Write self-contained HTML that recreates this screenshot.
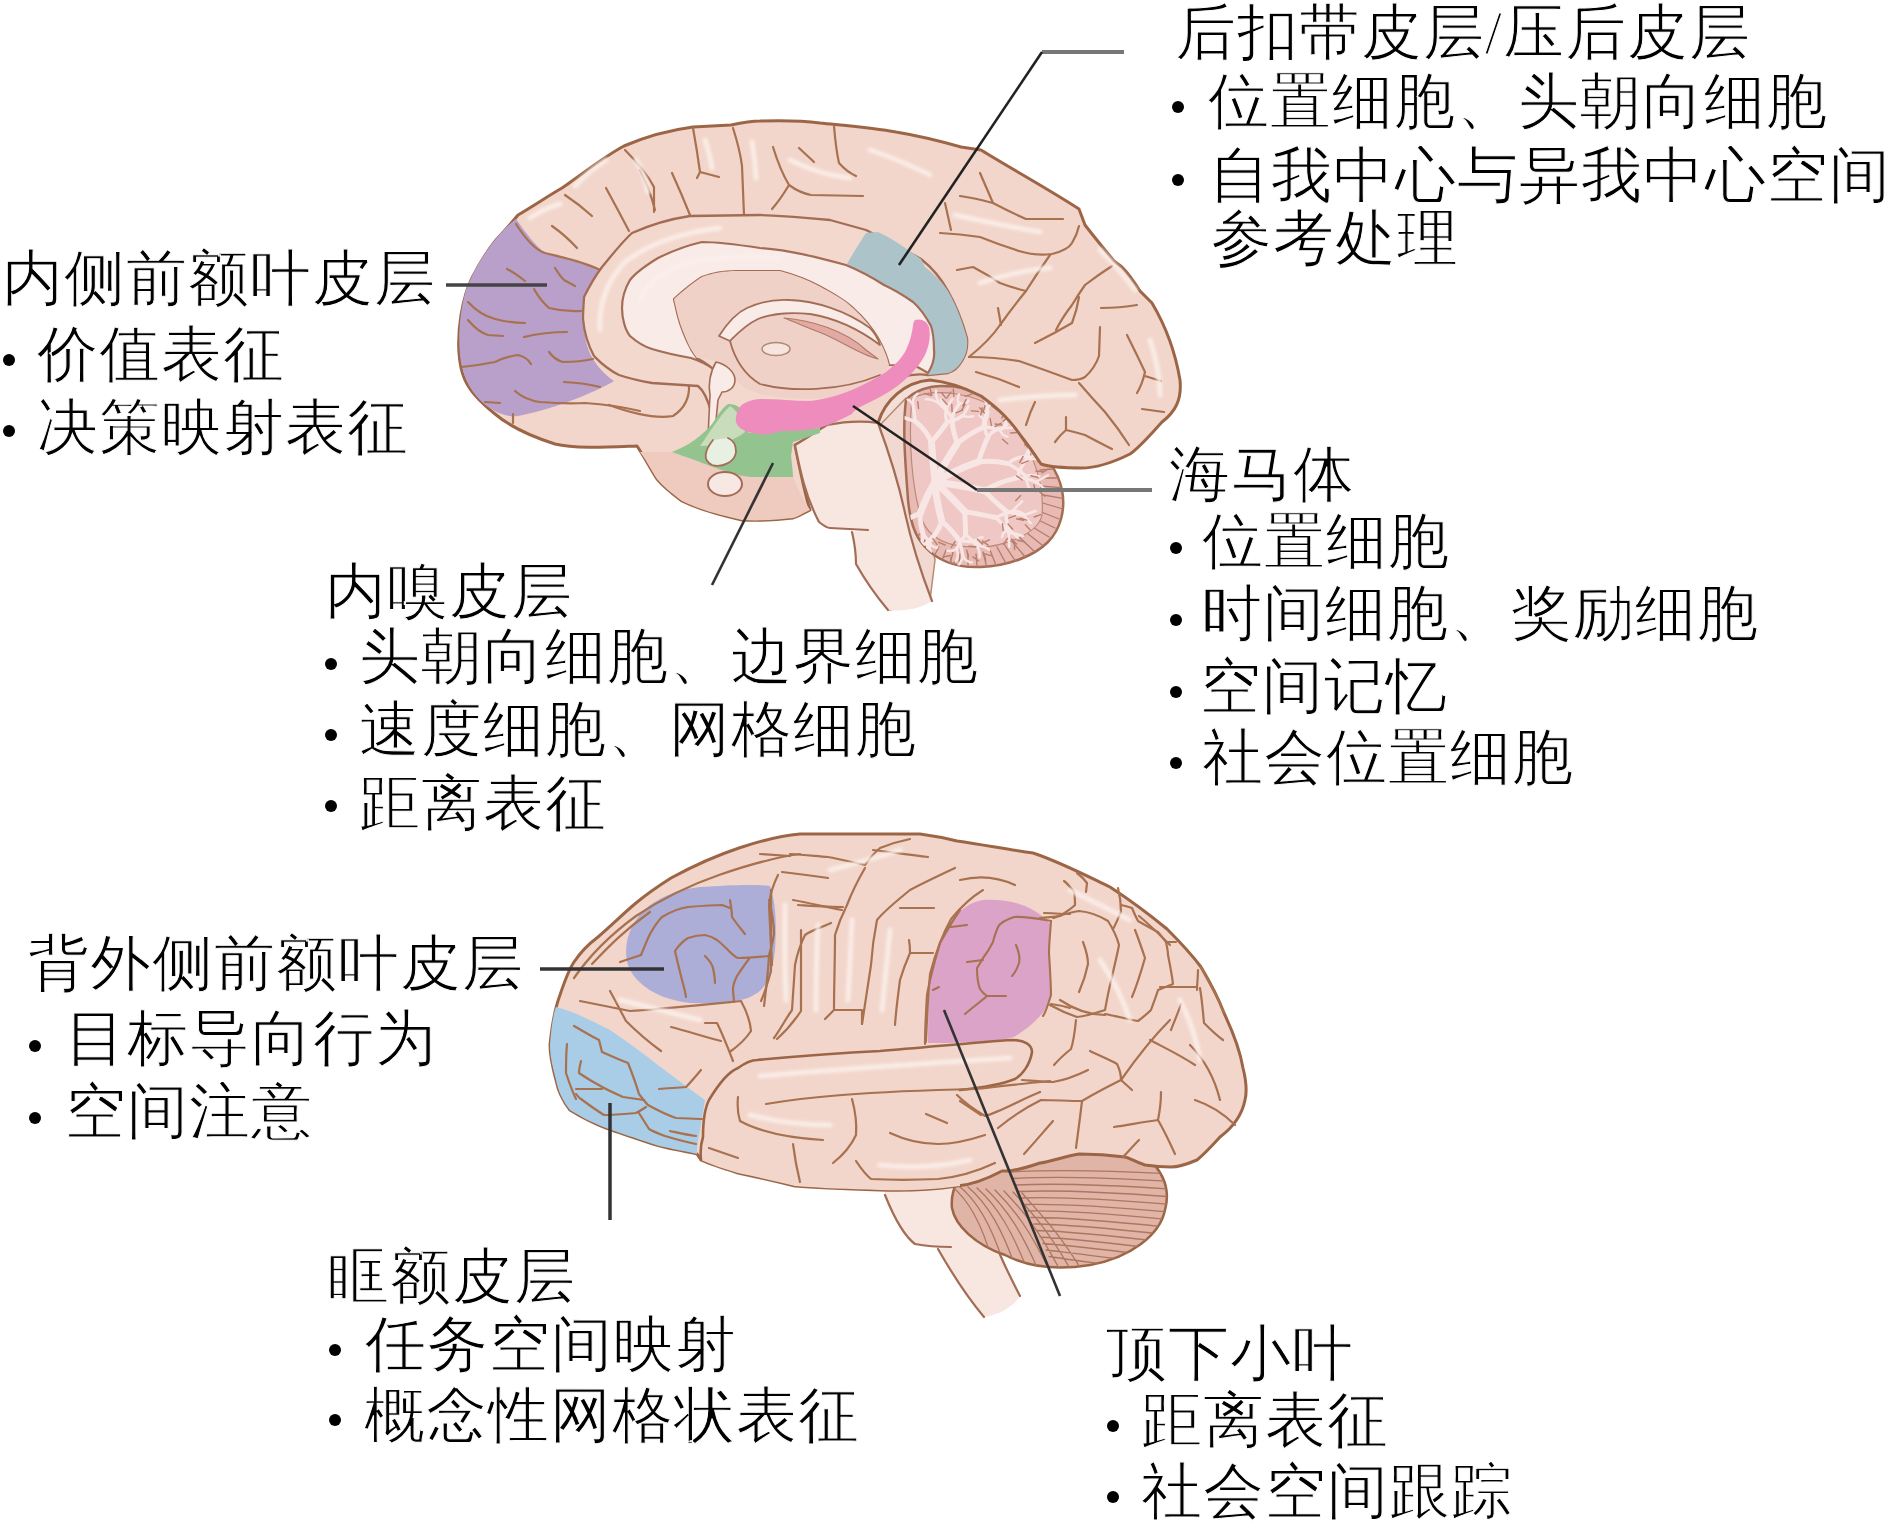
<!DOCTYPE html>
<html><head><meta charset="utf-8"><style>
html,body{margin:0;padding:0;background:#fff;width:1890px;height:1529px;overflow:hidden}
body{position:relative;font-family:"Liberation Serif",serif;color:#111}
.t{position:absolute;white-space:nowrap;line-height:1;font-size:60.5px;letter-spacing:1.0px;color:#000;-webkit-text-stroke:1px #fff}
.b{position:absolute;width:12px;height:12px;border-radius:50%;background:#000}
svg{position:absolute;left:0;top:0}
</style></head><body>

<svg width="1890" height="1529" viewBox="0 0 1890 1529">
<defs><filter id="blr" x="-20%" y="-20%" width="140%" height="140%"><feGaussianBlur stdDeviation="1.8"/></filter></defs>
<g id="top" stroke-linejoin="round" stroke-linecap="round">

<!-- cerebellum -->
<path d="M850 445 L865 395 L930 362 L1000 395 L906 420 Z" fill="#f3dfd8"/>
<path d="M880 425 L906 398 L935 560 L930 600 L890 610 Z" fill="#f1d8d0" stroke="#b98a72" stroke-width="1.5"/>
<path d="M906 400 C915 390 930 386 941 386 C960 386 975 390 985 396 C1000 410 1015 425 1030 440 C1045 455 1058 470 1062 490 C1066 510 1060 530 1048 542 C1035 555 1010 566 981 567 C960 568 940 563 925 547 C914 535 910 520 908 500 C906 470 902 430 906 400 Z" fill="#e8bab3" stroke="#a36d55" stroke-width="2.5"/>
<clipPath id="cbclip"><path d="M906 400 C915 390 930 386 941 386 C960 386 975 390 985 396 C1000 410 1015 425 1030 440 C1045 455 1058 470 1062 490 C1066 510 1060 530 1048 542 C1035 555 1010 566 981 567 C960 568 940 563 925 547 C914 535 910 520 908 500 C906 470 902 430 906 400 Z"/></clipPath>
<g clip-path="url(#cbclip)">
<path d="M1030 440 L1055 428 M1034 447 L1059 437 M1036 455 L1063 447 M1038 462 L1066 457 M1040 470 L1067 468 M1040 478 L1068 478 M1040 486 L1067 488 M1038 494 L1066 499 M1036 501 L1063 509 M1034 509 L1059 519 M1030 516 L1055 528 M1026 523 L1049 537 M1022 529 L1042 545 M1016 534 L1035 552 M1010 539 L1027 559 M1004 544 L1018 565 M997 547 L1009 569 M990 550 L999 573 M983 552 L989 576 M976 554 L978 577 M968 554 L968 578 M960 554 L958 577 M953 552 L947 576 M946 550 L937 573 M939 547 L927 569 M932 544 L918 565 M926 539 L909 559 M920 534 L901 552 M914 529 L894 545 M910 523 L887 537 M906 516 L881 528 M902 509 L877 519 M900 501 L873 509 M898 494 L870 499 M896 486 L869 488 M896 478 L868 478 M896 470 L869 468 M898 462 L870 457 M900 455 L873 447 M902 447 L877 437" fill="none" stroke="#b37c68" stroke-width="1.3"/>
<path d="M912 398 C935 388 975 392 1000 412 C1030 440 1045 480 1042 515 C1038 535 1000 548 975 547 C950 547 930 540 922 520 C912 490 908 440 912 398 Z" fill="#efc8c5" stroke="#b98a7a" stroke-width="1.2"/>
<g fill="none" stroke="#f8e6e5" stroke-linecap="round"><path d="M935.0 482.0 Q933.0 462.4 931.5 442.2" stroke-width="7.0"/><path d="M931.5 442.2 Q939.6 432.6 947.5 422.0" stroke-width="4.9"/><path d="M947.5 422.0 Q956.0 420.5 963.0 415.5" stroke-width="3.4"/><path d="M963.0 415.5 Q965.6 417.7 973.2 416.2" stroke-width="2.5"/><path d="M963.0 415.5 Q965.4 412.4 968.3 406.4" stroke-width="2.5"/><path d="M947.5 422.0 Q944.3 417.1 946.7 407.6" stroke-width="3.4"/><path d="M946.7 407.6 Q948.5 403.9 952.4 399.1" stroke-width="2.5"/><path d="M946.7 407.6 Q943.7 404.7 940.6 399.9" stroke-width="2.5"/><path d="M931.5 442.2 Q925.9 429.3 915.2 421.4" stroke-width="4.9"/><path d="M915.2 421.4 Q914.0 409.4 912.6 403.0" stroke-width="3.4"/><path d="M912.6 403.0 Q912.8 397.1 917.6 393.7" stroke-width="2.5"/><path d="M912.6 403.0 Q904.3 397.2 902.1 394.9" stroke-width="2.5"/><path d="M915.2 421.4 Q906.1 418.7 898.0 415.3" stroke-width="3.4"/><path d="M898.0 415.3 Q892.8 409.5 889.6 406.0" stroke-width="2.5"/><path d="M898.0 415.3 Q889.9 416.5 886.3 420.7" stroke-width="2.5"/><path d="M935.0 482.0 Q943.6 464.3 957.5 443.0" stroke-width="7.0"/><path d="M957.5 443.0 Q969.9 433.4 982.9 427.5" stroke-width="4.9"/><path d="M982.9 427.5 Q992.3 426.4 999.9 429.9" stroke-width="3.4"/><path d="M999.9 429.9 Q1002.3 436.1 1007.5 436.7" stroke-width="2.5"/><path d="M999.9 429.9 Q1001.8 430.1 1007.5 424.2" stroke-width="2.5"/><path d="M982.9 427.5 Q983.6 420.6 987.1 410.3" stroke-width="3.4"/><path d="M987.1 410.3 Q988.4 404.1 994.8 402.8" stroke-width="2.5"/><path d="M987.1 410.3 Q986.7 402.7 984.9 399.6" stroke-width="2.5"/><path d="M957.5 443.0 Q952.6 432.6 951.9 417.2" stroke-width="4.9"/><path d="M951.9 417.2 Q953.8 411.8 959.5 403.4" stroke-width="3.4"/><path d="M959.5 403.4 Q966.7 404.3 968.5 400.6" stroke-width="2.5"/><path d="M959.5 403.4 Q956.4 401.7 958.9 394.4" stroke-width="2.5"/><path d="M951.9 417.2 Q946.1 409.0 939.1 403.3" stroke-width="3.4"/><path d="M939.1 403.3 Q935.0 395.3 936.0 390.6" stroke-width="2.5"/><path d="M939.1 403.3 Q930.7 398.4 925.9 399.3" stroke-width="2.5"/><path d="M935.0 482.0 Q956.4 469.2 978.5 461.7" stroke-width="7.0"/><path d="M978.5 461.7 Q993.9 460.4 1008.4 463.6" stroke-width="4.9"/><path d="M1008.4 463.6 Q1020.1 470.9 1026.1 476.3" stroke-width="3.4"/><path d="M1026.1 476.3 Q1025.9 480.5 1029.9 490.3" stroke-width="2.5"/><path d="M1026.1 476.3 Q1031.7 473.7 1039.6 476.6" stroke-width="2.5"/><path d="M1008.4 463.6 Q1014.7 457.4 1025.3 456.4" stroke-width="3.4"/><path d="M1025.3 456.4 Q1028.2 460.2 1036.5 458.7" stroke-width="2.5"/><path d="M1025.3 456.4 Q1027.4 451.5 1031.2 444.4" stroke-width="2.5"/><path d="M978.5 461.7 Q983.3 446.4 988.1 436.8" stroke-width="4.9"/><path d="M988.1 436.8 Q992.4 430.0 1002.5 428.3" stroke-width="3.4"/><path d="M1002.5 428.3 Q1005.8 427.5 1012.0 427.7" stroke-width="2.5"/><path d="M1002.5 428.3 Q1005.6 422.7 1007.7 417.9" stroke-width="2.5"/><path d="M988.1 436.8 Q983.9 432.1 985.5 421.9" stroke-width="3.4"/><path d="M985.5 421.9 Q988.0 416.7 988.6 411.7" stroke-width="2.5"/><path d="M985.5 421.9 Q983.2 418.8 979.5 415.4" stroke-width="2.5"/><path d="M935.0 482.0 Q959.6 484.8 984.2 490.7" stroke-width="7.0"/><path d="M984.2 490.7 Q996.0 502.8 1006.2 511.2" stroke-width="4.9"/><path d="M1006.2 511.2 Q1005.5 518.3 1008.3 528.8" stroke-width="3.4"/><path d="M1008.3 528.8 Q1002.9 532.1 1002.0 537.2" stroke-width="2.5"/><path d="M1008.3 528.8 Q1011.6 531.3 1017.7 537.9" stroke-width="2.5"/><path d="M1006.2 511.2 Q1014.3 513.9 1023.5 515.1" stroke-width="3.4"/><path d="M1023.5 515.1 Q1029.2 522.0 1030.9 523.1" stroke-width="2.5"/><path d="M1023.5 515.1 Q1028.2 513.7 1035.6 511.0" stroke-width="2.5"/><path d="M984.2 490.7 Q997.9 482.1 1017.3 477.9" stroke-width="4.9"/><path d="M1017.3 477.9 Q1028.8 478.5 1036.4 482.3" stroke-width="3.4"/><path d="M1036.4 482.3 Q1041.4 485.5 1044.7 489.5" stroke-width="2.5"/><path d="M1036.4 482.3 Q1040.4 478.6 1048.0 475.3" stroke-width="2.5"/><path d="M1017.3 477.9 Q1020.1 466.0 1028.4 457.5" stroke-width="3.4"/><path d="M1028.4 457.5 Q1038.3 454.8 1042.8 452.1" stroke-width="2.5"/><path d="M1028.4 457.5 Q1030.3 446.8 1027.2 441.0" stroke-width="2.5"/><path d="M935.0 482.0 Q949.6 495.0 964.7 511.7" stroke-width="7.0"/><path d="M964.7 511.7 Q965.5 524.2 965.6 534.8" stroke-width="4.9"/><path d="M965.6 534.8 Q960.2 540.7 956.7 548.7" stroke-width="3.4"/><path d="M956.7 548.7 Q954.3 551.5 947.5 550.8" stroke-width="2.5"/><path d="M956.7 548.7 Q959.2 557.6 955.9 560.8" stroke-width="2.5"/><path d="M965.6 534.8 Q970.7 538.2 977.5 546.6" stroke-width="3.4"/><path d="M977.5 546.6 Q980.2 551.9 979.7 557.3" stroke-width="2.5"/><path d="M977.5 546.6 Q982.9 545.3 989.2 549.7" stroke-width="2.5"/><path d="M964.7 511.7 Q982.6 514.7 995.7 517.5" stroke-width="4.9"/><path d="M995.7 517.5 Q1004.5 525.6 1008.8 532.7" stroke-width="3.4"/><path d="M1008.8 532.7 Q1008.7 540.1 1009.3 546.8" stroke-width="2.5"/><path d="M1008.8 532.7 Q1016.2 533.3 1022.8 536.1" stroke-width="2.5"/><path d="M995.7 517.5 Q1004.5 512.9 1012.7 511.1" stroke-width="3.4"/><path d="M1012.7 511.1 Q1016.0 509.6 1023.9 514.0" stroke-width="2.5"/><path d="M1012.7 511.1 Q1017.5 505.6 1022.1 501.4" stroke-width="2.5"/><path d="M935.0 482.0 Q936.0 499.7 941.9 521.4" stroke-width="7.0"/><path d="M941.9 521.4 Q937.4 533.9 927.7 542.8" stroke-width="4.9"/><path d="M927.7 542.8 Q920.6 544.9 913.6 548.9" stroke-width="3.4"/><path d="M913.6 548.9 Q910.8 547.1 902.9 545.0" stroke-width="2.5"/><path d="M913.6 548.9 Q913.0 550.7 907.2 557.0" stroke-width="2.5"/><path d="M927.7 542.8 Q928.2 549.3 926.5 558.0" stroke-width="3.4"/><path d="M926.5 558.0 Q921.0 563.5 920.3 566.2" stroke-width="2.5"/><path d="M926.5 558.0 Q930.9 563.3 932.7 566.2" stroke-width="2.5"/><path d="M941.9 521.4 Q950.7 528.7 959.0 540.0" stroke-width="4.9"/><path d="M959.0 540.0 Q961.9 548.5 963.0 556.7" stroke-width="3.4"/><path d="M963.0 556.7 Q962.4 560.1 957.5 566.8" stroke-width="2.5"/><path d="M963.0 556.7 Q966.3 562.1 971.8 562.5" stroke-width="2.5"/><path d="M959.0 540.0 Q964.8 542.0 973.6 541.3" stroke-width="3.4"/><path d="M973.6 541.3 Q979.0 543.2 980.4 546.0" stroke-width="2.5"/><path d="M973.6 541.3 Q979.9 536.8 982.6 537.2" stroke-width="2.5"/><path d="M935.0 482.0 Q925.3 497.9 920.2 513.7" stroke-width="7.0"/><path d="M920.2 513.7 Q911.0 516.6 899.5 523.3" stroke-width="4.9"/><path d="M899.5 523.3 Q890.3 523.4 886.5 522.9" stroke-width="3.4"/><path d="M886.5 522.9 Q881.0 518.4 879.6 517.7" stroke-width="2.5"/><path d="M886.5 522.9 Q881.9 525.7 879.8 526.3" stroke-width="2.5"/><path d="M899.5 523.3 Q898.5 529.1 894.3 536.9" stroke-width="3.4"/><path d="M894.3 536.9 Q889.9 540.2 886.4 542.3" stroke-width="2.5"/><path d="M894.3 536.9 Q893.6 540.3 896.6 544.8" stroke-width="2.5"/><path d="M920.2 513.7 Q919.7 524.0 923.1 534.1" stroke-width="4.9"/><path d="M923.1 534.1 Q922.7 542.5 918.7 548.5" stroke-width="3.4"/><path d="M918.7 548.5 Q913.7 551.7 909.9 553.6" stroke-width="2.5"/><path d="M918.7 548.5 Q923.0 554.1 922.3 556.7" stroke-width="2.5"/><path d="M923.1 534.1 Q927.1 538.5 930.5 544.4" stroke-width="3.4"/><path d="M930.5 544.4 Q928.9 546.3 930.8 551.9" stroke-width="2.5"/><path d="M930.5 544.4 Q936.2 548.8 937.2 547.3" stroke-width="2.5"/></g>
<path d="M971.5 410.9 L978.4 411.4 M962.7 405.7 L966.2 399.7 M956.0 412.8 L962.5 410.1 M946.9 397.9 L950.8 392.1 M945.9 398.1 L941.5 392.7 M952.1 411.5 L951.8 404.5 M912.0 393.3 L915.3 387.1 M901.8 401.2 L896.3 396.9 M918.6 408.5 L917.7 401.6 M887.9 411.9 L883.3 406.6 M891.6 424.0 L885.3 427.0 M902.0 422.3 L895.4 419.9 M1002.5 439.2 L1007.7 443.8 M1003.0 421.1 L1008.6 416.9 M995.1 424.0 L1002.0 425.0 M989.4 400.8 L994.4 395.8 M990.5 401.0 L989.1 394.1 M980.7 414.8 L982.3 408.0 M965.3 396.2 L972.0 394.1 M953.8 396.3 L953.3 389.3 M961.7 410.2 L965.1 404.1 M931.8 395.3 L930.1 388.5 M931.1 395.5 L924.5 393.4 M947.3 404.6 L942.6 399.4 M1033.8 484.8 L1035.7 491.6 M1036.0 471.3 L1043.0 471.5 M1016.6 475.9 L1022.3 480.0 M1034.8 453.0 L1041.7 454.4 M1024.9 445.4 L1028.0 439.2 M1021.6 463.6 L1028.1 460.9 M1010.6 433.0 L1017.6 432.5 M1001.8 418.1 L1004.9 411.8 M995.2 426.6 L1001.3 423.0 M983.0 412.4 L985.0 405.7 M984.3 412.9 L979.6 407.8 M991.4 425.5 L990.2 418.6 M1007.5 538.5 L1003.3 544.1 M1011.5 539.1 L1016.6 544.0 M1002.4 523.6 L1003.2 530.5 M1025.4 524.8 L1030.1 530.0 M1034.1 517.0 L1040.7 514.7 M1016.6 518.8 L1023.5 520.4 M1039.5 491.8 L1044.8 496.3 M1042.1 472.8 L1048.0 469.1 M1030.9 475.7 L1037.7 477.3 M1036.6 448.9 L1043.1 446.4 M1032.8 445.9 L1032.3 438.9 M1019.7 462.6 L1023.1 456.4 M950.3 555.5 L943.4 557.0 M950.9 557.4 L950.5 564.4 M955.1 541.5 L951.3 547.4 M984.3 553.8 L985.7 560.7 M984.9 553.9 L991.6 555.8 M977.3 539.1 L982.3 544.0 M1014.4 542.5 L1014.6 549.5 M1017.5 540.2 L1024.3 541.8 M1008.1 524.0 L1012.7 529.3 M1019.9 518.3 L1026.7 520.1 M1015.8 500.5 L1020.6 495.4 M1008.8 518.1 L1015.4 515.7 M903.7 550.8 L897.1 548.5 M912.7 558.5 L908.4 564.0 M920.0 551.8 L913.5 554.5 M925.7 567.6 L921.5 573.2 M927.3 567.6 L931.5 573.2 M932.0 553.8 L931.5 560.8 M954.3 561.9 L950.9 568.0 M972.8 556.9 L978.6 560.8 M966.8 550.1 L968.4 556.9 M982.4 541.1 L988.2 545.1 M983.0 542.7 L989.3 539.8 M968.9 546.1 L975.9 546.7 M877.6 522.7 L872.0 518.5 M882.8 530.6 L876.6 533.8 M889.9 528.2 L882.9 528.0 M890.8 545.6 L885.0 549.6 M891.3 545.2 L893.3 551.9 M891.0 531.0 L888.5 537.6 M909.1 548.1 L903.0 551.7 M926.5 553.2 L929.3 559.7 M915.0 542.6 L913.0 549.3 M925.6 551.3 L925.9 558.3 M938.7 542.3 L945.1 545.0 M932.8 538.7 L936.9 544.4" fill="none" stroke="#b9806e" stroke-width="1.4" stroke-linecap="round"/>
</g>
<!-- cortex silhouette -->
<path d="M637 446 C610 447 575 449 555 444 C530 436 508 425 495 414 C480 402 470 392 465 380 C458 365 457 340 461 315 C464 298 467 288 472 278 C480 262 488 250 496 240 C503 232 510 225 518 215 C535 205 548 196 562 188 C585 172 605 156 624 146 C645 137 670 130 693 127 L731 125 C745 122 752 121 760 121 C790 120 805 121 820 123 C850 126 875 128 896 132 C920 136 940 141 961 147 L981 150 C1010 168 1050 190 1079 209 L1085 225 C1095 238 1105 250 1114 261 L1122 267 C1130 275 1135 283 1140 291 L1152 303 C1165 325 1175 350 1180 380 C1182 400 1175 412 1162 422 C1150 435 1140 447 1130 454 C1110 464 1095 468 1081 468 C1065 468 1050 467 1041 464 C1035 455 1028 445 1021 436 C1010 420 1000 410 981 396 C965 388 950 382 930 380 C905 382 885 400 878 423 L827 425 C815 432 805 440 795 445 C800 470 805 495 810 510 C800 515 795 518 793 518 C775 520 760 521 742 520 C720 515 700 510 682 501 C670 492 662 485 657 479 C650 468 645 458 637 446 Z" fill="#f2d6cb" stroke="#9c6646" stroke-width="3"/>
<!-- temporal darker -->
<path d="M672 452 C700 462 740 474 773 477 L793 477 C798 490 805 502 810 510 C800 515 795 518 793 518 C775 520 760 521 742 520 C720 515 700 510 682 501 C670 492 662 485 657 479 C650 468 645 458 640 452 Z" fill="#efcabe"/>
<!-- purple mPFC -->
<path d="M516 219 C525 232 535 245 545 253 C560 258 585 264 600 269 C596 285 590 300 585 320 C583 340 588 362 614 381 C590 395 550 410 518 416 C505 418 490 410 480 400 C470 390 462 375 460 355 C458 335 460 310 466 290 C475 265 495 235 516 219 Z" fill="#b8a0cb"/>
<g fill="none" stroke="#a8714f" stroke-width="2.2" stroke-linecap="round">
<path d="M507 269 Q515 273 525 281"/>
<path d="M555 268 Q560 276 564 280 L575 286"/>
<path d="M534 289 Q540 300 549 308 Q565 312 581 311"/>
<path d="M468 302 Q480 315 495 319 Q510 323 525 323"/>
<path d="M468 320 Q478 332 488 335 L503 336"/>
<path d="M524 337 Q545 332 567 332"/>
<path d="M462 367 Q480 365 495 362 Q508 356 518 355 Q527 357 531 364"/>
<path d="M549 352 Q555 360 563 362 Q580 362 593 359"/>
<path d="M515 391 Q525 400 540 402 Q565 404 585 403 Q615 405 640 411"/>
<path d="M564 382 Q585 383 600 387"/>
<path d="M485 402 L500 403 M513 414 L513 423"/>
<path d="M516 224 C525 238 535 250 545 253 C565 258 585 262 600 270"/>
<path d="M552 226 Q565 235 577 248"/>
<path d="M565 195 Q580 205 592 216"/>
<path d="M606 188 Q618 210 629 231"/>
<path d="M625 150 Q645 170 654 187 L654 212"/>
<path d="M672 173 Q682 195 690 215"/>
<path d="M693 128 Q697 150 700 172 L697 178 M700 172 L719 177"/>
<path d="M733 128 Q740 150 742 166 L744 215"/>
<path d="M640 170 Q650 190 655 210"/>
<path d="M773 147 Q780 170 789 185 Q800 193 811 195 L863 196 M789 185 Q780 200 772 209"/>
<path d="M799 148 L814 162"/>
<path d="M834 126 Q836 150 839 163 Q847 172 856 176"/>
<path d="M960 196 Q975 198 993 203 Q1010 212 1026 219 L1063 219"/>
<path d="M980 173 L993 203"/>
<path d="M940 233 Q960 234 980 237 Q1000 245 1019 251 Q1035 256 1052 254 Q1068 250 1072 243 Q1077 235 1079 226"/>
<path d="M957 270 L973 267 Q988 275 1000 283 Q1013 288 1026 291"/>
<path d="M1050 255 Q1038 272 1026 291 Q1012 308 1000 325 Q990 340 969 357"/>
<path d="M1112 266 Q1098 275 1085 285 Q1078 295 1072 305 Q1062 318 1056 330"/>
<path d="M1101 308 Q1120 308 1137 305"/>
<path d="M998 308 L1001 325"/>
<path d="M945 203 L951 230"/>
<path d="M969 357 Q995 357 1019 361 Q1045 370 1072 380 Q1080 380 1085 377 Q1095 368 1099 356 L1100 327"/>
<path d="M1079 383 Q1092 398 1105 412 Q1118 428 1129 445"/>
<path d="M976 372 Q998 378 1019 387"/>
<path d="M1026 425 Q1030 412 1035 402"/>
<path d="M1055 442 Q1060 435 1066 430 Q1075 432 1085 435 Q1100 443 1112 449 M1066 417 L1066 430"/>
<path d="M1127 335 Q1137 355 1145 372 Q1142 385 1137 393 M1145 376 L1161 381"/>
<path d="M1142 409 L1164 412"/>
<path d="M1035 343 Q1055 333 1072 323 Q1077 310 1079 297"/>
<path d="M609 405 Q650 420 673 416 Q690 405 689 385 Q685 378 677 378"/>
</g>
<!-- cingulate band (outer) -->

<path d="M711 439 L711 412 C708 400 703 390 698 386 L652 383 C640 381 628 378 619 375 C605 368 598 360 594 356 C588 345 584 330 583 319 C583 310 584 300 584 297 C590 285 596 275 602 267 C612 255 622 242 632 233 C650 225 670 219 690 216 L760 215 C790 216 810 218 830 220 L866 230 C885 240 905 250 921 259 C935 270 942 280 948 291 C956 305 962 320 967 338 C968 348 966 355 962 361 C958 368 952 372 948 373 L928 375 C910 372 890 380 880 390 C860 400 830 410 800 415 C770 418 740 420 722 422 C720 430 718 436 711 439 Z" fill="#f3d8cd" stroke="#a36d55" stroke-width="2.3"/>
<!-- blue PCC -->
<path d="M847 264 C852 255 858 245 866 233 L878 232 C895 240 908 250 921 259 L925 267 C935 275 942 282 948 291 C956 305 962 320 967 338 C968 348 966 355 962 361 C958 368 952 372 948 373 L928 375 C932 365 935 358 934 350 C934 340 933 332 931 326 C925 315 920 308 913 302 C903 295 895 290 884 285 C870 276 858 270 847 264 Z" fill="#adc3ca"/>
<!-- corpus callosum -->
<path d="M928 373 C933 365 935 358 934 350 C934 340 933 332 931 326 C925 315 920 308 913 302 C903 295 895 290 884 285 C870 276 858 270 846 265 C820 258 790 250 760 248 C740 245 720 242 702 242 C685 246 670 252 658 258 C645 266 636 272 630 280 C624 290 622 300 622 308 C622 318 625 330 630 336 C638 343 645 347 652 349 C665 353 680 356 691 358 C700 361 708 365 713 369 C708 364 702 361 697 358 C693 353 690 348 687 341 C682 330 678 318 676 308 C675 303 674 300 674 299 C684 290 694 282 702 277 C712 273 725 271 736 271 L780 271 C795 275 808 280 819 286 C832 293 845 300 854 309 C864 318 872 328 878 338 C883 347 887 356 889 365 C897 366 905 365 913 365 C918 367 923 370 928 373 Z" fill="#f9ebe7" stroke="#a36d55" stroke-width="2.2"/>
<g fill="none" stroke="#fbf0ec" stroke-width="5" stroke-linecap="round" opacity="0.85" filter="url(#blr)">
<path d="M530 218 Q545 208 560 204"/>
<path d="M575 186 Q590 170 606 160"/>
<path d="M636 160 Q645 175 648 192"/>
<path d="M705 140 Q710 155 712 168"/>
<path d="M752 142 Q755 160 756 178"/>
<path d="M790 160 Q820 175 850 178"/>
<path d="M870 150 Q900 160 930 175"/>
<path d="M955 215 Q1000 225 1040 232"/>
<path d="M980 283 Q1020 270 1050 268"/>
<path d="M1100 250 Q1120 270 1135 290"/>
<path d="M1150 340 Q1160 370 1160 395"/>
<path d="M600 330 Q598 290 625 262 Q660 235 720 228"/>
<path d="M640 300 Q650 275 690 262 Q730 255 780 258"/>
<path d="M1000 400 Q1040 395 1075 395"/>
</g>
<!-- thalamus region -->
<path d="M674 299 C684 290 694 282 702 277 C712 273 725 271 736 271 L780 271 C795 275 808 280 819 286 C832 293 845 300 854 309 C864 318 872 328 878 338 C883 347 887 356 889 365 C880 385 860 395 830 398 C800 400 780 398 760 394 C740 388 730 375 725 365 C715 360 700 358 697 358 C693 353 690 348 687 341 C682 330 678 318 676 308 Z" fill="#efd1c8"/>
<!-- fornix -->
<path d="M719 336 C728 322 738 312 747 308 C760 302 775 299 790 300 C815 301 845 310 870 328 C875 333 878 338 880 345 C860 330 835 318 810 314 C790 312 770 314 758 319 C745 325 736 335 730 341 Z" fill="#f9ebe7" stroke="#a36d55" stroke-width="1.8"/>
<path d="M784 318 C810 320 845 330 866 350 L878 359 C860 355 840 340 819 332 C805 327 795 322 784 318 Z" fill="#e3a9a3" stroke="#b07a66" stroke-width="1.2"/>
<path d="M730 341 C735 360 745 375 760 384 C790 392 840 392 880 375" fill="none" stroke="#a36d55" stroke-width="1.8"/>
<ellipse cx="776" cy="349" rx="14" ry="6.5" fill="#f7e4de" stroke="#b08870" stroke-width="1.5"/>
<path d="M716 362 C726 364 735 372 735 380 C735 388 728 392 722 392 L718 400 C716 420 714 440 713 458 L707 458 C708 440 709 420 710 395 C708 385 710 372 716 362 Z" fill="#f9ece8" stroke="#a36d55" stroke-width="1.6"/>
<!-- brainstem -->
<path d="M795 445 C800 470 805 495 819 522 C824 526 828 528 830 528 L868 530 L852 532 C855 545 856 556 856 564 C865 580 877 597 888 610 C905 612 922 608 932 601 C922 575 912 545 905 513 C898 480 888 450 878 423 C860 420 842 422 827 425 C815 432 805 440 795 445 Z" fill="#f8e6e1"/>
<path d="M878 423 C860 420 842 422 827 425 C815 432 805 440 795 445 C800 470 805 495 819 522 C824 526 828 528 830 528 L868 530 M852 532 C855 545 856 556 856 564 C865 580 877 597 888 610 M932 601 C922 575 912 545 905 513 C898 480 888 450 878 423" fill="none" stroke="#a36d55" stroke-width="2.2"/>
<!-- green EC -->
<path d="M672 452 C688 446 702 436 712 424 C718 415 722 408 728 404 C734 404 739 406 742 410 C745 420 747 430 749 433 C760 432 770 431 776 430 C790 430 805 429 820 428 L820 433 C810 436 800 440 793 442 C792 447 792 452 791 455 C792 465 793 472 793 477 L751 477 C740 476 735 474 728 472 C715 468 708 465 700 462 C690 458 680 455 672 452 Z" fill="#93c38f"/>
<path d="M700 446 C710 432 720 415 730 406 C737 410 742 420 745 432 C735 440 720 446 700 446 Z" fill="#c9dcbc"/>
<!-- hippocampus -->
<path d="M915 320 C921 318 927 321 929 327 C931 336 929 346 925 355 C919 366 911 375 900 384 C890 392 875 400 860 407 C855 410 853 412 852 414 C840 420 830 425 818 428 C805 431 790 431 781 431 C772 434 765 435 759 434 C750 433 744 431 740 428 C735 424 735 418 737 413 C738 409 740 406 743 404 C750 400 756 399 762 399 C778 399 795 401 810 401 C825 399 840 395 852 390 C865 384 877 378 886 372 C895 365 902 358 906 350 C910 342 912 333 913 326 C913 323 914 321 915 320 Z" fill="#ef8cbe"/>
<ellipse cx="725" cy="484" rx="17" ry="12" fill="#f8e8e3" stroke="#a36d55" stroke-width="2"/>
<path d="M713 440 C705 450 702 460 712 465 C722 468 735 462 736 452 C736 445 733 440 728 438" fill="#e8f0e4" stroke="#a36d55" stroke-width="1.8"/>
</g>

<g id="bot" stroke-linejoin="round" stroke-linecap="round">
<!-- brainstem -->
<path d="M880 1175 C885 1200 900 1230 915 1244 C930 1247 945 1247 951 1247 L938 1249 C950 1270 968 1298 984 1317 C1000 1315 1015 1305 1020 1296 C1012 1280 1004 1265 999 1252 C990 1230 985 1200 985 1175 Z" fill="#f8e6e1"/>
<path d="M885 1195 C893 1215 903 1235 915 1244 C930 1247 945 1247 951 1247 M938 1249 C950 1270 968 1298 984 1317 M1020 1296 C1012 1280 1004 1265 999 1252" fill="none" stroke="#a36d55" stroke-width="2.2"/>
<!-- cerebellum -->
<clipPath id="cbb"><path d="M990 1150 C1050 1145 1110 1148 1150 1160 C1165 1175 1170 1192 1165 1210 C1160 1235 1130 1258 1090 1265 C1060 1270 1030 1268 1005 1255 C975 1245 955 1225 952 1208 C950 1190 960 1165 990 1150 Z"/></clipPath>
<path d="M990 1150 C1050 1145 1110 1148 1150 1160 C1165 1175 1170 1192 1165 1210 C1160 1235 1130 1258 1090 1265 C1060 1270 1030 1268 1005 1255 C975 1245 955 1225 952 1208 C950 1190 960 1165 990 1150 Z" fill="#e0b4a6" stroke="#9c6646" stroke-width="2.5"/>
<g clip-path="url(#cbb)" fill="none" stroke="#ad765e" stroke-width="1.3"><path d="M1010 1172.0 C1060 1169.0 1120 1171.0 1175 1174.0 M1013 1178.5 C1060 1175.9 1120 1178.3 1175 1181.7 M1016 1185.0 C1060 1182.8 1120 1185.6 1175 1189.4 M1019 1191.5 C1060 1189.7 1120 1192.9 1175 1197.1 M1022 1198.0 C1060 1196.6 1120 1200.2 1175 1204.8 M1025 1204.5 C1060 1203.5 1120 1207.5 1175 1212.5 M1028 1211.0 C1060 1210.4 1120 1214.8 1175 1220.2 M1031 1217.5 C1060 1217.3 1120 1222.1 1175 1227.9 M1034 1224.0 C1060 1224.2 1120 1229.4 1175 1235.6 M1037 1230.5 C1060 1231.1 1120 1236.7 1175 1243.3 M1040 1237.0 C1060 1238.0 1120 1244.0 1175 1251.0 M1043 1243.5 C1060 1244.9 1120 1251.3 1175 1258.7 M1046 1250.0 C1060 1251.8 1120 1258.6 1175 1266.4 M1049 1256.5 C1060 1258.7 1120 1265.9 1175 1274.1 M950 1185 C970 1200 985 1230 995 1272 M959 1186 C979 1202 994 1230 1006 1272 M968 1187 C988 1204 1003 1230 1017 1272 M977 1188 C997 1206 1012 1230 1028 1272 M986 1189 C1006 1208 1021 1230 1039 1272 M995 1190 C1015 1210 1030 1230 1050 1272 M1004 1191 C1024 1212 1039 1230 1061 1272 M1013 1192 C1033 1214 1048 1230 1072 1272 M1022 1193 C1042 1216 1057 1230 1083 1272"/></g>
<!-- cortex silhouette -->
<path d="M697 1154 C680 1150 665 1148 653 1144 C635 1138 620 1133 606 1128 C590 1122 578 1115 570 1110 C562 1100 558 1090 556 1080 C552 1065 550 1055 550 1045 C552 1025 555 1008 560 995 C565 980 570 968 574 962 C582 950 590 943 598 937 C612 925 625 912 636 903 C648 893 660 885 671 878 C695 865 718 855 739 848 C760 841 778 836 800 834 L920 834 C935 836 945 838 957 841 C985 845 1010 850 1033 853 C1060 862 1085 875 1110 887 C1130 900 1150 915 1167 929 C1180 942 1192 955 1201 967 C1210 982 1218 997 1224 1013 C1232 1030 1240 1050 1243 1068 C1246 1080 1247 1092 1245 1100 C1242 1115 1232 1128 1220 1137 C1210 1148 1202 1156 1197 1160 C1185 1165 1178 1167 1171 1167 C1160 1167 1152 1166 1145 1165 C1135 1162 1130 1158 1125 1157 C1110 1155 1095 1154 1079 1154 C1065 1156 1050 1162 1040 1163 C1025 1168 1012 1172 1002 1171 C985 1180 970 1185 957 1186 C930 1190 905 1191 880 1190 C850 1189 820 1188 795 1186 C770 1180 752 1176 738 1173 C725 1169 712 1165 701 1160 Z" fill="#f2d6cb" stroke="#9c6646" stroke-width="3"/>
<!-- DLPFC ellipse -->
<path d="M700 887 C730 885 755 884 770 886 C775 900 777 920 775 950 C772 975 768 990 748 998 C728 1004 708 1004 690 1003 C660 1000 635 985 628 965 C622 945 630 920 650 905 C665 895 680 889 700 887 Z" fill="#adaed8"/>
<!-- OFC blue -->
<path d="M556 1007 C575 1012 590 1020 610 1030 C640 1050 670 1075 705 1100 L699 1136 C697 1145 697 1150 697 1154 C680 1150 665 1148 653 1144 C635 1138 620 1133 606 1128 C590 1122 578 1115 570 1110 C562 1100 558 1090 556 1080 C552 1065 550 1055 550 1045 C551 1030 553 1015 556 1007 Z" fill="#a9cde6"/>
<!-- IPL magenta -->
<path d="M951 921 C960 910 970 902 983 900 C1000 899 1015 902 1025 906 C1038 912 1046 918 1051 925 C1050 935 1049 945 1049 953 C1050 970 1051 985 1051 995 C1048 1005 1044 1012 1040 1016 C1032 1025 1022 1032 1014 1037 C1000 1041 985 1042 972 1042 C955 1043 940 1043 928 1043 C928 1020 929 995 930 974 C933 960 937 950 941 942 C944 933 947 926 951 921 Z" fill="#dba3c7"/>
<!-- temporal lobe -->
<path d="M703 1137 C703 1120 706 1106 709 1100 C718 1085 728 1072 738 1068 C745 1063 752 1060 757 1060 C800 1056 840 1053 880 1051 C930 1047 980 1042 1012 1040 C1025 1040 1032 1045 1032 1052 C1030 1065 1022 1075 1015 1079 C1000 1085 980 1088 960 1090 L960 1186 C930 1190 905 1191 880 1190 C850 1189 820 1188 795 1186 C770 1180 752 1176 738 1173 C725 1169 712 1165 701 1160 C700 1152 701 1145 703 1137 Z" fill="#f2d6cb"/>
<path d="M701 1160 C700 1150 701 1143 703 1137 C703 1120 706 1106 709 1100 C718 1085 728 1072 738 1068 C745 1063 752 1060 757 1060 C800 1056 840 1053 880 1051 C930 1047 980 1042 1012 1040 C1025 1040 1032 1045 1032 1052 C1030 1065 1022 1075 1015 1079 C1000 1085 980 1088 960 1090" fill="none" stroke="#9c6646" stroke-width="2.6"/>
<g fill="none" stroke="#a8714f" stroke-width="2.2" stroke-linecap="round">
<!-- temporal sulci -->
<path d="M766 1104 C790 1100 815 1097 842 1095 C880 1092 930 1090 976 1089 C1000 1086 1030 1083 1050 1081"/>
<path d="M738 1097 C737 1108 738 1115 740 1121 C760 1132 790 1138 823 1140"/>
<path d="M852 1099 C855 1110 857 1122 856 1135 C850 1148 842 1156 833 1163"/>
<path d="M890 1133 C905 1140 920 1144 938 1144 C955 1144 970 1140 985 1135"/>
<path d="M957 1095 C965 1103 975 1110 985 1116 C1000 1112 1020 1100 1040 1092"/>
<path d="M926 1114 L947 1123"/>
<path d="M709 1148 L738 1158"/>
<path d="M793 1144 C795 1160 797 1170 800 1182"/>
<path d="M856 1161 C862 1170 866 1175 871 1179 C890 1180 915 1180 938 1179 C960 1177 980 1170 995 1163"/>
</g>
<g fill="none" stroke="#a8714f" stroke-width="2.2" stroke-linecap="round">
<!-- frontal / central gyri -->
<path d="M574 978 C590 955 610 935 636 916 C660 900 690 885 719 875 C745 866 770 858 800 854"/>
<path d="M592 964 C610 945 625 930 650 912"/>

<path d="M641 955 C644 948 647 940 650 934 C654 927 658 921 662 917 C672 911 680 908 688 907 C700 906 712 905 722 905 L730 908"/>
<path d="M620 962 L641 955"/>
<path d="M675 951 C679 945 683 941 688 938 C694 936 700 935 705 935 C710 936 714 938 717 940 C722 944 726 948 730 952 C733 955 735 957 738 958 C748 958 758 957 769 956"/>
<path d="M705 956 C709 960 712 964 713 968 C714 973 715 978 715 983"/>
<path d="M675 951 C677 960 679 968 681 976 C683 984 685 990 686 997"/>
<path d="M749 959 C745 964 741 970 737 976 C735 980 733 985 733 989 C733 994 734 998 734 1002"/>
<path d="M730 900 C731 906 732 912 732 917 C736 923 741 929 745 934"/>
<path d="M769 900 C772 912 774 923 774 934 C773 942 771 949 769 955 C768 975 766 990 764 1006"/>
<path d="M580 1001 C600 1005 615 1008 630 1011 C670 1008 710 1004 741 1001 C746 1010 750 1020 751 1031 C745 1040 738 1046 731 1051"/>
<path d="M610 991 C615 1000 620 1010 626 1021 C640 1035 650 1043 661 1051"/>
<path d="M671 1027 C690 1032 705 1037 721 1041"/>
<path d="M705 1023 L717 1023 C723 1035 728 1048 733 1061"/>
<path d="M574 1026 C583 1031 591 1036 599 1040 C600 1044 601 1048 602 1052 C611 1056 620 1060 628 1063 C632 1073 636 1084 639 1094 C642 1098 645 1102 648 1105 C657 1110 667 1115 676 1118 C685 1118 694 1119 702 1119"/>
<path d="M581 1061 C580 1065 579 1069 579 1073 C585 1077 591 1081 597 1084 C605 1089 614 1093 623 1097 C630 1098 637 1099 644 1100"/>
<path d="M576 1089 L602 1089"/>
<path d="M576 1094 C578 1096 579 1098 581 1099 C589 1105 596 1110 604 1115 C615 1115 625 1114 636 1113 C640 1111 643 1109 646 1107"/>
<path d="M639 1113 C642 1118 646 1124 649 1129 C654 1132 660 1134 665 1136 C675 1139 686 1142 696 1144"/>
<path d="M670 1131 C679 1133 687 1135 696 1136"/>
<path d="M659 1089 C668 1088 677 1088 686 1087 C691 1082 696 1076 701 1070"/>
<path d="M567 1044 C566 1054 566 1064 566 1073 C569 1082 572 1091 576 1099"/>


<path d="M771 890 C771 915 771 945 771 971 C768 982 765 992 761 1001"/>
<path d="M793 900 C810 903 825 907 842 910"/>
<path d="M801 930 C801 955 801 985 801 1011 C795 1020 787 1030 777 1039"/>
<path d="M778 875 C773 885 770 895 769 905 C770 925 771 945 772 965"/>
<path d="M798 905 C815 906 830 907 843 907"/>
<path d="M831 923 C820 928 812 930 805 935 C800 945 797 955 795 965 C794 980 793 995 792 1010 C785 1020 780 1030 774 1038"/>
<path d="M865 868 C858 880 852 892 847 905 C842 915 838 925 835 935 C835 960 834 985 834 1010 C831 1013 828 1016 825 1019 M834 1010 L862 1010 M862 1010 L862 1024"/>
<path d="M955 868 C940 875 925 882 910 890 C898 900 885 910 877 920 C874 935 872 950 871 965 C868 985 865 1005 862 1024"/>
<path d="M900 908 L934 908"/>
<path d="M909 940 C910 945 910 950 910 953 L933 953 M910 953 C906 962 903 970 900 980 C898 995 896 1010 895 1025"/>
<path d="M960 910 C953 920 946 932 940 943 C935 960 930 978 927 995 C926 1012 925 1028 925 1044"/>
<path d="M790 854 C805 855 815 856 828 857 C840 859 852 862 865 865 C870 858 875 852 880 848 C890 844 900 841 910 839"/>
<path d="M760 854 L790 856"/>
<path d="M782 872 C800 874 815 876 828 878"/>
<path d="M873 850 C890 852 910 855 928 857"/>
<path d="M1022 1080 C1035 1081 1045 1082 1053 1082 C1065 1080 1078 1075 1088 1070"/>
<path d="M1054 1065 C1060 1058 1066 1053 1071 1049 C1074 1040 1075 1030 1076 1020"/>
<path d="M1090 1051 C1100 1056 1110 1060 1117 1064 C1120 1070 1121 1075 1121 1080 L1132 1090"/>
<path d="M1121 1080 C1135 1060 1150 1040 1170 1020"/>
<path d="M1121 1080 C1105 1088 1092 1095 1082 1101 C1080 1118 1078 1133 1076 1148"/>
<path d="M1082 1101 C1068 1101 1055 1100 1041 1100 C1025 1108 1010 1118 998 1128"/>
<path d="M960 1101 L981 1115"/>
<path d="M1024 1154 C1035 1142 1045 1130 1053 1121"/>
<path d="M1114 1127 C1128 1125 1143 1122 1158 1120 C1160 1110 1161 1100 1161 1092 M1158 1120 C1165 1132 1170 1143 1175 1154"/>
<path d="M1139 1140 C1133 1146 1128 1152 1123 1157"/>
<path d="M1040 918 C1048 917 1054 917 1060 916 C1066 912 1071 909 1075 905 C1075 900 1075 896 1074 892 C1071 888 1068 884 1064 881"/>
<path d="M1086 892 L1087 883 C1084 879 1081 876 1077 873"/>
<path d="M1118 888 C1120 896 1121 904 1121 912 C1118 918 1116 924 1113 929"/>
<path d="M1053 918 C1062 915 1070 912 1079 911 C1090 912 1100 916 1108 921 C1113 929 1117 937 1119 945 C1117 956 1114 967 1112 977 C1109 988 1107 999 1105 1010 C1096 1013 1087 1016 1077 1017 C1068 1014 1059 1010 1050 1005"/>
<path d="M1083 942 C1086 950 1088 957 1088 964 C1086 974 1083 983 1079 992"/>
<path d="M1121 905 C1126 906 1129 907 1132 908 C1134 913 1136 917 1138 921 C1145 925 1152 929 1158 932 C1161 936 1164 939 1166 942 L1176 942"/>
<path d="M1135 930 C1139 940 1142 949 1145 958 C1141 972 1137 985 1132 997"/>
<path d="M1166 942 C1167 947 1168 951 1168 955 C1170 965 1172 975 1173 984 C1168 986 1163 988 1158 990 C1156 997 1153 1004 1151 1010 C1147 1014 1142 1018 1138 1021 C1127 1019 1116 1016 1105 1014"/>
<path d="M1160 987 C1172 987 1185 987 1197 987 M1198 970 C1198 977 1197 984 1197 990"/>
<path d="M1181 1004 C1178 1013 1174 1022 1171 1030"/>
<path d="M1200 988 C1202 1000 1203 1012 1204 1023 C1210 1029 1216 1035 1223 1040"/>
<path d="M1139 916 C1150 925 1160 935 1170 945 M1201 967 C1210 985 1220 1000 1224 1013"/>
<path d="M1190 1045 C1205 1060 1215 1080 1220 1100 M1150 1040 C1165 1048 1180 1055 1195 1065 M1195 1100 C1210 1105 1225 1115 1235 1125 M1060 1000 C1075 1010 1090 1015 1105 1015"/>
<path d="M960 880 C980 875 1000 878 1015 885"/>
</g>
<g fill="none" stroke="#fbf0ec" stroke-width="5" stroke-linecap="round" opacity="0.85" filter="url(#blr)">
<path d="M760 1076 Q880 1066 1010 1058"/>
<path d="M785 905 Q784 950 786 1000"/>
<path d="M818 925 Q816 960 816 1010"/>
<path d="M852 920 Q850 960 848 1000"/>
<path d="M890 930 Q886 970 882 1010"/>
<path d="M830 870 Q870 860 900 850"/>

<path d="M750 1115 Q790 1125 830 1125"/>
<path d="M880 1165 Q930 1170 970 1160"/>
<path d="M1100 960 Q1120 990 1130 1020"/>
<path d="M1180 1000 Q1195 1030 1200 1060"/>
<path d="M1070 890 Q1100 905 1130 920"/>
<path d="M620 1000 Q660 1010 700 1020"/>
</g>
<!-- IPL internal -->
<g fill="none" stroke="#a8714f" stroke-width="2.1">
<path d="M1051 921 C1040 919 1025 916 1014 917 C1005 920 1000 923 998 927 C996 932 994 937 993 942 C990 948 987 953 983 958 C981 962 979 965 977 968 C977 976 978 984 980 989 C982 992 984 994 987 996 L1006 996"/>
<path d="M967 962 L983 960"/>
<path d="M987 996 C980 1002 972 1008 965 1014"/>
<path d="M1016 945 C1019 952 1020 958 1019 963 C1017 969 1015 973 1012 976"/>
<path d="M951 927 L967 925"/>
<path d="M933 990 L939 987"/>
<path d="M1051 921 C1050 935 1049 945 1049 953 C1050 970 1051 985 1051 995 C1048 1005 1046 1012 1043 1016"/>
<path d="M1051 1004 C1058 1005 1064 1006 1070 1008 M1044 913 C1052 913 1060 914 1070 914"/>
<path d="M983 890 C970 898 960 908 951 919 C942 935 935 955 930 974 C928 995 927 1020 926 1042"/>
</g>
</g>

<g stroke-linecap="butt" fill="none">
<path d="M1124 52H1042" stroke="#777" stroke-width="4"/>
<path d="M1042 52L899 265" stroke="#222" stroke-width="2.6"/>
<path d="M446 285H547" stroke="#444" stroke-width="3.5"/>
<path d="M853 406L977 490" stroke="#222" stroke-width="2.6"/>
<path d="M977 490H1152" stroke="#777" stroke-width="4"/>
<path d="M773 463L712 585" stroke="#333" stroke-width="2.6"/>
<path d="M540 969H664" stroke="#333" stroke-width="3.5"/>
<path d="M610 1103V1220" stroke="#333" stroke-width="3.5"/>
<path d="M944 1010L1060 1296" stroke="#333" stroke-width="2.6"/>
</g>
</svg>
<div class="t" style="left:1175.0px;top:3.0px">后扣带皮层/压后皮层</div>
<div class="t" style="left:1207.5px;top:72.0px">位置细胞、头朝向细胞</div>
<div class="t" style="left:1208.5px;top:145.5px">自我中心与异我中心空间</div>
<div class="t" style="left:1211.0px;top:209.0px">参考处理</div>
<div class="t" style="left:1.5px;top:248.5px">内侧前额叶皮层</div>
<div class="t" style="left:37.0px;top:324.5px">价值表征</div>
<div class="t" style="left:37.0px;top:397.5px">决策映射表征</div>
<div class="t" style="left:1168.5px;top:445.0px">海马体</div>
<div class="t" style="left:1201.5px;top:511.5px">位置细胞</div>
<div class="t" style="left:1200.5px;top:584.0px">时间细胞、奖励细胞</div>
<div class="t" style="left:1199.5px;top:657.0px">空间记忆</div>
<div class="t" style="left:1201.5px;top:728.0px">社会位置细胞</div>
<div class="t" style="left:325.0px;top:562.0px">内嗅皮层</div>
<div class="t" style="left:358.5px;top:627.0px">头朝向细胞、边界细胞</div>
<div class="t" style="left:359.0px;top:699.5px">速度细胞、网格细胞</div>
<div class="t" style="left:358.5px;top:773.5px">距离表征</div>
<div class="t" style="left:27.5px;top:933.5px">背外侧前额叶皮层</div>
<div class="t" style="left:65.0px;top:1009.0px">目标导向行为</div>
<div class="t" style="left:64.5px;top:1082.0px">空间注意</div>
<div class="t" style="left:328.0px;top:1246.5px">眶额皮层</div>
<div class="t" style="left:365.0px;top:1315.0px">任务空间映射</div>
<div class="t" style="left:364.0px;top:1385.5px">概念性网格状表征</div>
<div class="t" style="left:1106.0px;top:1323.5px">顶下小叶</div>
<div class="t" style="left:1140.5px;top:1390.5px">距离表征</div>
<div class="t" style="left:1141.0px;top:1462.0px">社会空间跟踪</div>
<div class="b" style="left:1172.0px;top:101.0px"></div>
<div class="b" style="left:1172.0px;top:174.0px"></div>
<div class="b" style="left:3.0px;top:354.0px"></div>
<div class="b" style="left:3.0px;top:425.0px"></div>
<div class="b" style="left:1170.0px;top:542.0px"></div>
<div class="b" style="left:1170.0px;top:614.0px"></div>
<div class="b" style="left:1170.0px;top:686.0px"></div>
<div class="b" style="left:1170.0px;top:757.0px"></div>
<div class="b" style="left:325.0px;top:658.0px"></div>
<div class="b" style="left:325.0px;top:729.0px"></div>
<div class="b" style="left:325.0px;top:800.0px"></div>
<div class="b" style="left:29.0px;top:1040.0px"></div>
<div class="b" style="left:29.0px;top:1112.0px"></div>
<div class="b" style="left:329.0px;top:1344.0px"></div>
<div class="b" style="left:329.0px;top:1414.0px"></div>
<div class="b" style="left:1107.0px;top:1420.0px"></div>
<div class="b" style="left:1107.0px;top:1491.0px"></div>
</body></html>
